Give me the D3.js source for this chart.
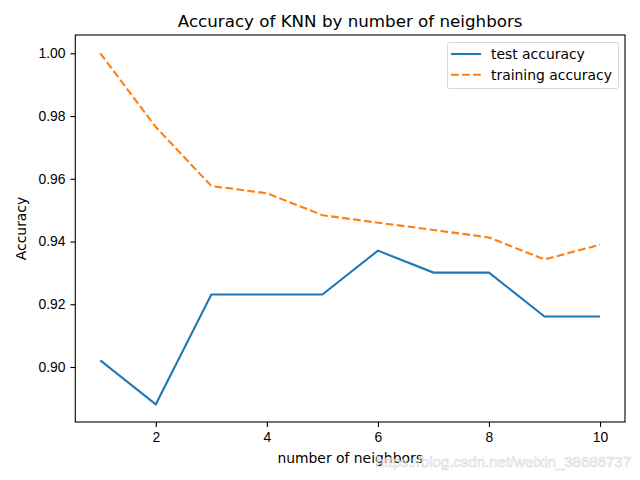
<!DOCTYPE html>
<html>
<head>
<meta charset="utf-8">
<style>
    body { margin: 0; background: #fff; }
    svg { font-family: 'DejaVu Sans', sans-serif; }
    .tick text { font-size: 13.9px; fill: #000; }
    .tick line { stroke: #000; stroke-width: 1.1; }
    .domain { display: none; }
</style>
</head>
<body>
<svg width="640" height="480"></svg>
<script src="https://d3js.org/d3.v7.min.js"></script>
<script>
    // data
    let neighbors = [1, 2, 3, 4, 5, 6, 7, 8, 9, 10]
    let testAccuracy = [0.9021, 0.8881, 0.9231, 0.9231, 0.9231, 0.9371, 0.9301, 0.9301, 0.9161, 0.9161]
    let trainAccuracy = [1.0, 0.9765, 0.9577, 0.9554, 0.9484, 0.9460, 0.9437, 0.9413, 0.9343, 0.9390]
    let xTicks = [2, 4, 6, 8, 10]
    let yTicks = [0.90, 0.92, 0.94, 0.96, 0.98, 1.00]

    let margin = { top: 35, right: 15, bottom: 58, left: 75.3 }
    let width = 640, height = 480
    let dash = "7.7,3.33"

    let svg = d3.select("svg")

    let x = d3.scaleLinear()
        .domain([0.55, 10.45])
        .range([margin.left, width - margin.right])

    let y = d3.scaleLinear()
        .domain([0.88247, 1.00584])
        .range([height - margin.bottom, margin.top])

    // axes
    svg.append("g")
        .attr("class", "x axis")
        .attr("transform", `translate(0,${height - margin.bottom})`)
        .call(d3.axisBottom(x).tickValues(xTicks).tickSize(4.9).tickPadding(4.9).tickFormat(d3.format("d")))

    svg.append("g")
        .attr("class", "y axis")
        .attr("transform", `translate(${margin.left},0)`)
        .call(d3.axisLeft(y).tickValues(yTicks).tickSize(4.9).tickPadding(4.9).tickFormat(d3.format(".2f")))

    // lines
    let line = d3.line()
        .x((d, i) => x(neighbors[i]))
        .y(d => y(d))

    svg.append("path")
        .datum(testAccuracy)
        .attr("fill", "none")
        .attr("stroke", "#1f77b4")
        .attr("stroke-width", 2.08)
        .attr("d", line)

    svg.append("path")
        .datum(trainAccuracy)
        .attr("fill", "none")
        .attr("stroke", "#ff7f0e")
        .attr("stroke-width", 2.08)
        .attr("stroke-dasharray", dash)
        .attr("d", line)

    // frame
    svg.append("rect")
        .attr("x", margin.left)
        .attr("y", margin.top)
        .attr("width", width - margin.right - margin.left)
        .attr("height", height - margin.bottom - margin.top)
        .attr("fill", "none")
        .attr("stroke", "#000")
        .attr("stroke-width", 1.1)

    // titles
    svg.append("text")
        .attr("x", (margin.left + width - margin.right) / 2)
        .attr("y", 27)
        .attr("text-anchor", "middle")
        .style("font-size", "16.7px")
        .text("Accuracy of KNN by number of neighbors")

    svg.append("text")
        .attr("x", (margin.left + width - margin.right) / 2)
        .attr("y", 463)
        .attr("text-anchor", "middle")
        .style("font-size", "13.9px")
        .text("number of neighbors")

    svg.append("text")
        .attr("transform", `translate(26,${(margin.top + height - margin.bottom) / 2}) rotate(-90)`)
        .attr("text-anchor", "middle")
        .style("font-size", "13.9px")
        .text("Accuracy")

    // legend
    let legend = svg.append("g")
    legend.append("rect")
        .attr("x", 447.5).attr("y", 42.5)
        .attr("width", 171).attr("height", 46)
        .attr("rx", 2)
        .attr("fill", "#fff")
        .attr("fill-opacity", 0.8)
        .attr("stroke", "#d9d9d9")

    let legendItems = [
        { label: "test accuracy", color: "#1f77b4", dash: null },
        { label: "training accuracy", color: "#ff7f0e", dash: dash }
    ]
    legendItems.forEach((d, i) => {
        let yy = 54 + i * 20.7
        legend.append("line")
            .attr("x1", 451).attr("x2", 481)
            .attr("y1", yy).attr("y2", yy)
            .attr("stroke", d.color)
            .attr("stroke-width", 2.08)
            .attr("stroke-dasharray", d.dash)
        legend.append("text")
            .attr("x", 491)
            .attr("y", yy + 5)
            .style("font-size", "13.9px")
            .text(d.label)
    })

    // watermark (present in the source image)
    svg.append("text")
        .attr("x", 631)
        .attr("y", 467)
        .attr("text-anchor", "end")
        .style("font-family", "'Liberation Sans', Arial, sans-serif")
        .style("font-size", "15px")
        .attr("fill", "#fff")
        .attr("stroke", "#d0d0d0")
        .attr("stroke-width", 0.6)
        .attr("opacity", 0.8)
        .text("https://blog.csdn.net/weixin_38686737")
</script>
</body>
</html>
